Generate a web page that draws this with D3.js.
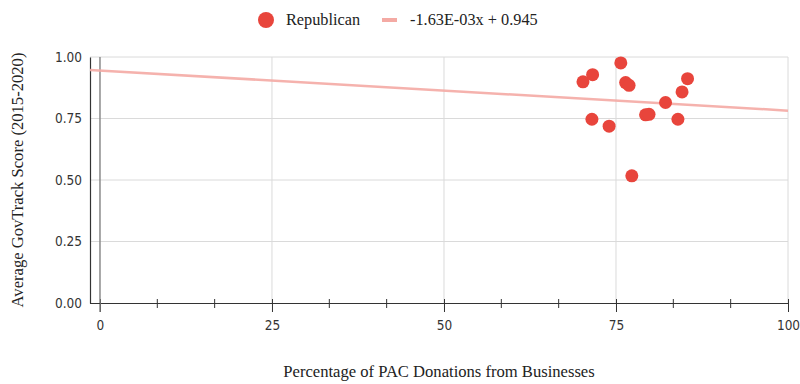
<!DOCTYPE html>
<html>
<head>
<meta charset="utf-8">
<script src="https://cdn.jsdelivr.net/npm/d3@7"></script>
<style>
  html, body { margin: 0; padding: 0; background: #fff; }
  svg { display: block; }
  .serif { font-family: "Liberation Serif", "DejaVu Serif", serif; fill: #222; }
  .tick text { font-family: "Liberation Sans Narrow", "DejaVu Sans Condensed", "Liberation Sans", sans-serif; font-size: 13.5px; fill: #333; }
</style>
</head>
<body>
<svg id="chart" width="800" height="384"></svg>
<script>
// Share of PAC donations from businesses vs. average GovTrack score (Republicans)
const businessPct = [70.2, 71.6, 75.7, 76.4, 76.9, 71.5, 74.0, 85.4, 84.6, 82.2, 79.3, 79.8, 84.0, 77.3];
const govtrackScore = [0.899, 0.928, 0.976, 0.896, 0.885, 0.747, 0.719, 0.912, 0.858, 0.815, 0.765, 0.767, 0.747, 0.517];

// Fitted trend line coefficients
const trendSlope = -1.63e-3;
const trendIntercept = 0.945;
const trendLabel = "-1.63E-03x + 0.945";
const seriesName = "Republican";

const xTicks = [0, 25, 50, 75, 100];
const xMinorTicks = [8.333, 16.667, 33.333, 41.667, 58.333, 66.667, 83.333, 91.667];
const yTicks = [0, 0.25, 0.5, 0.75, 1.0];

const pointColor = "#e8453c";
const trendColor = "#f4aaa4";

const svg = d3.select("#chart");
const plotL = 90, plotR = 788, plotT = 57, plotB = 303;

const x = d3.scaleLinear().domain([-1.45, 100]).range([plotL, plotR]);
const y = d3.scaleLinear().domain([0, 1]).range([plotB, plotT]);

// Gridlines
const grid = svg.append("g");
grid.selectAll(".gy").data(yTicks.filter(d => d > 0)).join("line")
  .attr("x1", plotL).attr("x2", plotR)
  .attr("y1", d => y(d)).attr("y2", d => y(d))
  .attr("stroke", "#dadada").attr("stroke-width", 1);
grid.selectAll(".gx").data(xTicks.filter(d => d > 0)).join("line")
  .attr("x1", d => x(d)).attr("x2", d => x(d))
  .attr("y1", plotT).attr("y2", plotB)
  .attr("stroke", "#dadada").attr("stroke-width", 1);
// Zero line
grid.append("line")
  .attr("x1", x(0)).attr("x2", x(0))
  .attr("y1", plotT).attr("y2", plotB + 9)
  .attr("stroke", "#8a8a8a").attr("stroke-width", 1.5);

// Y axis
const yAxis = d3.axisLeft(y).tickValues(yTicks).tickFormat(d3.format(".2f")).tickSize(0).tickPadding(8);
const gy = svg.append("g").attr("transform", `translate(${plotL},0)`).call(yAxis);
gy.select(".domain").attr("stroke", "#333").attr("stroke-width", 1.2);

// X axis
const xAxis = d3.axisBottom(x).tickValues(xTicks).tickFormat(d3.format("d")).tickSize(9).tickPadding(8);
const gx = svg.append("g").attr("transform", `translate(0,${plotB})`).call(xAxis);
gx.select(".domain").attr("d", `M${plotL},0.5H${plotR}`).attr("stroke", "#333").attr("stroke-width", 1.2);
gx.selectAll(".tick line").attr("stroke", "#333").attr("y1", -4);
gx.selectAll(".tick").filter(d => d === 0).select("line").attr("stroke", "#666");

// Minor ticks
gx.selectAll(".minor").data(xMinorTicks).join("line")
  .attr("class", "minor")
  .attr("x1", d => x(d)).attr("x2", d => x(d))
  .attr("y1", -4).attr("y2", 5)
  .attr("stroke", "#333").attr("stroke-width", 1);

// Trend line
const xDom = x.domain();
svg.append("line")
  .attr("x1", x(xDom[0])).attr("y1", y(trendSlope * xDom[0] + trendIntercept))
  .attr("x2", x(xDom[1])).attr("y2", y(trendSlope * xDom[1] + trendIntercept))
  .attr("stroke", trendColor).attr("stroke-width", 2.5).attr("stroke-opacity", 0.9);

// Points
svg.append("g").selectAll("circle").data(businessPct.map((v, i) => [v, govtrackScore[i]])).join("circle")
  .attr("cx", d => x(d[0])).attr("cy", d => y(d[1]))
  .attr("r", 6.5).attr("fill", pointColor);

// Axis titles
svg.append("text").attr("class", "serif")
  .attr("x", (plotL + plotR) / 2).attr("y", 377)
  .attr("text-anchor", "middle").attr("font-size", 16.6)
  .text("Percentage of PAC Donations from Businesses");
svg.append("text").attr("class", "serif")
  .attr("transform", `translate(23,${(plotT + plotB) / 2}) rotate(-90)`)
  .attr("text-anchor", "middle").attr("font-size", 16.6)
  .text("Average GovTrack Score (2015-2020)");

// Legend
const lg = svg.append("g");
lg.append("circle").attr("cx", 266).attr("cy", 20).attr("r", 8).attr("fill", pointColor);
lg.append("text").attr("class", "serif").attr("x", 286).attr("y", 25).attr("font-size", 16.3).text(seriesName);
lg.append("line").attr("x1", 382).attr("x2", 397).attr("y1", 20).attr("y2", 20)
  .attr("stroke", trendColor).attr("stroke-width", 4);
lg.append("text").attr("class", "serif").attr("x", 410).attr("y", 25).attr("font-size", 16.3).text(trendLabel);
</script>
</body>
</html>
